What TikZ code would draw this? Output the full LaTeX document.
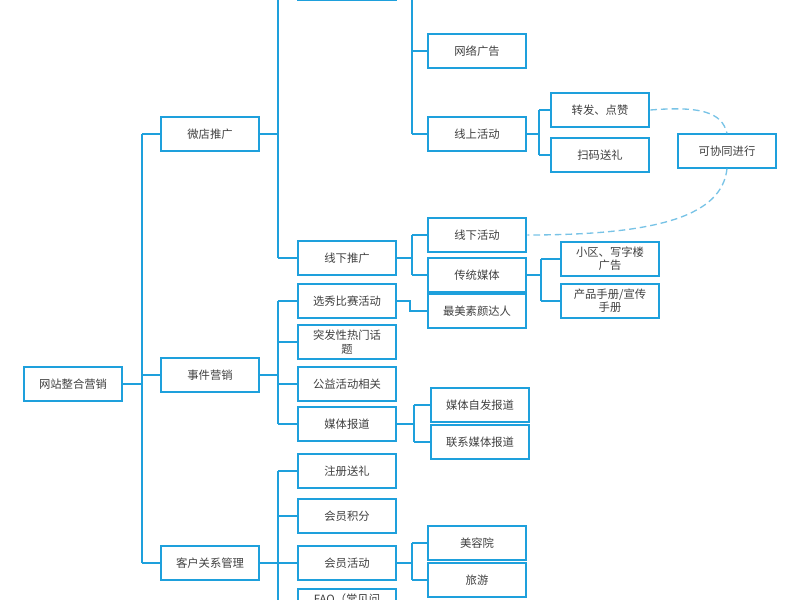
\documentclass[tikz,border=0pt]{standalone}
\usepackage{fontspec}
\setmainfont{Noto Sans CJK SC}
\definecolor{mapblue}{RGB}{30,160,220}
\definecolor{dashblue}{RGB}{120,195,230}
\tikzset{every picture/.style={line width=1.5pt}}
\tikzset{box/.style={draw=mapblue,fill=white,minimum width=74pt,minimum height=25pt,inner sep=1pt,align=center,text width=70pt,font=\fontsize{8.5}{10}\selectfont,text=black!75}}
\tikzset{link/.style={draw=mapblue}}

\begin{document}
\begin{tikzpicture}[x=0.75pt,y=0.75pt,yscale=-1,xscale=1]
\useasboundingbox (0,0) rectangle (800,600);
\clip (0,0) rectangle (800,600);

%Root and first level
\node [box] (root) at (73,384) {网站整合营销};
\node [box] (weidian) at (210,134) {微店推广};
\node [box] (shijian) at (210,375) {事件营销};
\node [box] (kehu) at (210,563) {客户关系管理};

%Second level
\node [box] (xianshang) at (347,-17) {线上推广};
\node [box] (xianxia) at (347,258) {线下推广};
\node [box] (xuanxiu) at (347,301) {选秀比赛活动};
\node [box] (tufa) at (347,342) {突发性热门话\\题};
\node [box] (gongyi) at (347,384) {公益活动相关};
\node [box] (meiti) at (347,424) {媒体报道};
\node [box] (zhuce) at (347,471) {注册送礼};
\node [box] (jifen) at (347,516) {会员积分};
\node [box] (huodong) at (347,563) {会员活动};
\node [box] (faq) at (347,606) {FAQ（常见问\\题）};

%Third level
\node [box] (wangluo) at (477,51) {网络广告};
\node [box] (xshd) at (477,134) {线上活动};
\node [box] (xxhd) at (477,235) {线下活动};
\node [box] (chuantong) at (477,275) {传统媒体};
\node [box] (sucai) at (477,311) {最美素颜达人};
\node [box] (zifa) at (480,405) {媒体自发报道};
\node [box] (lianxi) at (480,442) {联系媒体报道};
\node [box] (meirong) at (477,543) {美容院};
\node [box] (lvyou) at (477,580) {旅游};

%Fourth level
\node [box] (zhuanfa) at (600,110) {转发、点赞};
\node [box] (saoma) at (600,155) {扫码送礼};
\node [box] (xiaoqu) at (610,259) {小区、写字楼\\广告};
\node [box] (shouce) at (610,301) {产品手册/宣传\\手册};
\node [box] (xietong) at (727,151) {可协同进行};

%Connectors
\draw [link] (root.east) -- (142,384);
\draw [link] (142,134) -- (142,563);
\foreach \n in {weidian,shijian,kehu} \draw [link] (142,0 |- \n.west) -- (\n.west);
\draw [link] (weidian.east) -- (278,134);
\draw [link] (278,0) -- (278,258);
\foreach \n in {xianshang,xianxia} \draw [link] (278,0 |- \n.west) -- (\n.west);
\draw [link] (shijian.east) -- (278,375);
\draw [link] (278,301) -- (278,424);
\foreach \n in {xuanxiu,tufa,gongyi,meiti} \draw [link] (278,0 |- \n.west) -- (\n.west);
\draw [link] (kehu.east) -- (278,563);
\draw [link] (278,471) -- (278,600);
\foreach \n in {zhuce,jifen,huodong,faq} \draw [link] (278,0 |- \n.west) -- (\n.west);
\draw [link] (412,0) -- (412,134);
\foreach \n in {wangluo,xshd} \draw [link] (412,0 |- \n.west) -- (\n.west);
\draw [link] (xianxia.east) -- (412,258);
\draw [link] (412,235) -- (412,275);
\foreach \n in {xxhd,chuantong} \draw [link] (412,0 |- \n.west) -- (\n.west);
\draw [link] (xuanxiu.east) -- (410,301) |- (sucai.west);
\draw [link] (meiti.east) -- (414,424);
\draw [link] (414,405) -- (414,442);
\foreach \n in {zifa,lianxi} \draw [link] (414,0 |- \n.west) -- (\n.west);
\draw [link] (huodong.east) -- (412,563);
\draw [link] (412,543) -- (412,580);
\foreach \n in {meirong,lvyou} \draw [link] (412,0 |- \n.west) -- (\n.west);
\draw [link] (xshd.east) -- (539,134);
\draw [link] (539,110) -- (539,155);
\foreach \n in {zhuanfa,saoma} \draw [link] (539,0 |- \n.west) -- (\n.west);
\draw [link] (chuantong.east) -- (541,275);
\draw [link] (541,259) -- (541,301);
\foreach \n in {xiaoqu,shouce} \draw [link] (541,0 |- \n.west) -- (\n.west);

%Dashed links
\draw [dashblue,line width=1pt,dash pattern=on 5pt off 3pt] (zhuanfa.east) .. controls (700,106) and (722,112) .. (xietong.north);
\draw [dashblue,line width=1pt,dash pattern=on 5pt off 3pt] (xietong.south) .. controls (722,215) and (660,235) .. (xxhd.east);

\end{tikzpicture}
\end{document}
